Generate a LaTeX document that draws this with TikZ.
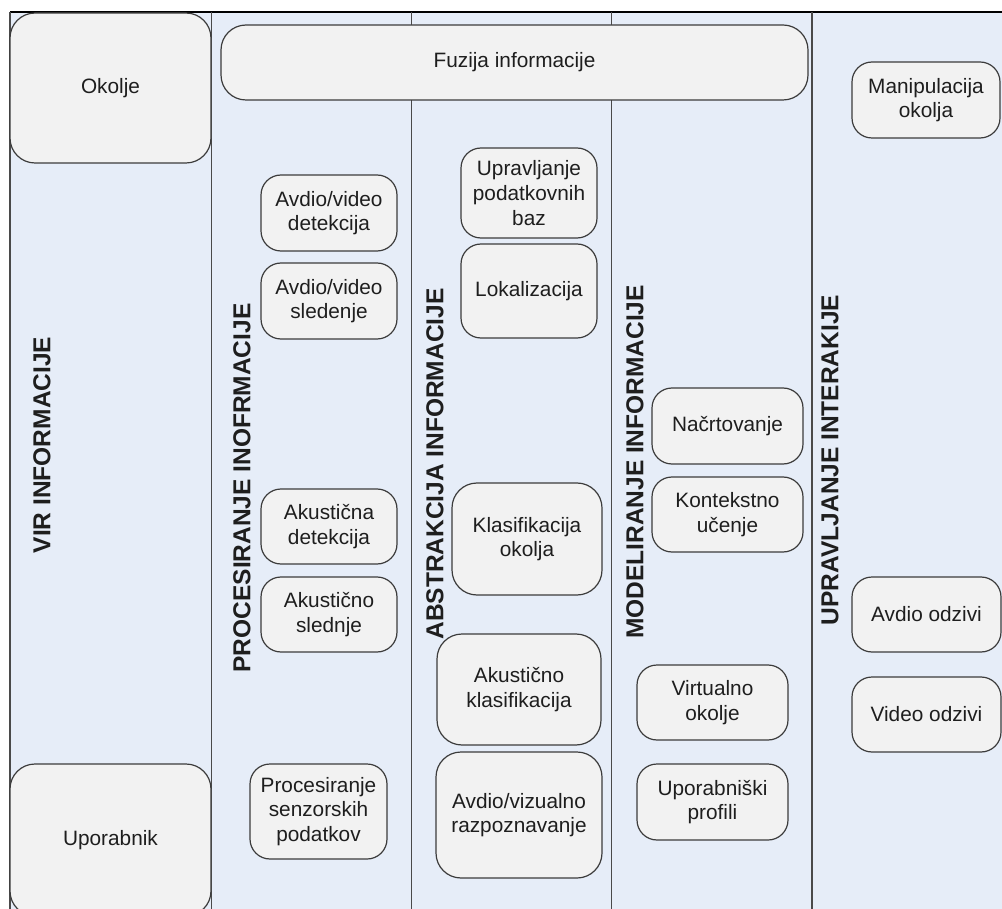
\documentclass[tikz,border=0pt]{standalone}
\usepackage{fontspec}
\setmainfont{Liberation Sans}
\definecolor{lane}{HTML}{E6EDF8}
\definecolor{boxfill}{HTML}{F2F2F2}
\definecolor{boxline}{HTML}{3C3C3C}
\definecolor{laneline}{HTML}{4A4A4A}
\definecolor{ink}{HTML}{1E1E1E}
\tikzset{
  stage/.style={draw=boxline, fill=boxfill, line width=1.2pt, rounded corners=20pt,
    align=center, inner sep=0pt, text=ink,
    font=\fontsize{20.8}{24.6}\selectfont},
  bigstage/.style={stage, rounded corners=25pt},
  lanetitle/.style={rotate=90, text=ink, inner sep=0pt,
    font=\bfseries\fontsize{24.5}{29}\selectfont},
  divider/.style={draw=laneline, line width=1.5pt}
}
\begin{document}
\begin{tikzpicture}[x=1pt, y=-1pt]
\useasboundingbox (0,0) rectangle (1002,909);
\clip (0,0) rectangle (1002,909);

% lanes
\fill[lane] (10,12) rectangle (1002,912);
\coordinate (tl) at (10,12);
\coordinate (tr) at (1002,12);
\coordinate (bl) at (10,912);
\draw[divider, draw=black] (tl) -- (tr);
\draw[divider] (tl) -- (bl);
\foreach \xx in {211.5, 411.5, 611.5, 812} {
  \draw[divider] (\xx,12) -- (\xx,912);
}

% lane titles
\node[lanetitle] (t1) at (42,445) {VIR INFORMACIJE};
\node[lanetitle] (t2) at (242,488) {PROCESIRANJE INOFRMACIJE};
\node[lanetitle] (t3) at (435,464) {ABSTRAKCIJA INFORMACIJE};
\node[lanetitle] (t4) at (635,462) {MODELIRANJE INFORMACIJE};
\node[lanetitle] (t5) at (830,460) {UPRAVLJANJE INTERAKIJE};

% sources
\node[bigstage, minimum width=201pt, minimum height=150pt] (okolje) at (110.5,88) {Okolje};
\node[bigstage, minimum width=201pt, minimum height=152pt] (uporabnik) at (110.5,840) {Uporabnik};

% fusion
\node[bigstage, minimum width=587pt, minimum height=75pt] (fuzija) at (514.5,62.5) {Fuzija informacije};

% processing
\node[stage, minimum width=136pt, minimum height=76pt] (avdet) at (329,213) {Avdio/video\\detekcija};
\node[stage, minimum width=136pt, minimum height=76pt] (avsled) at (329,301) {Avdio/video\\sledenje};
\node[stage, minimum width=136pt, minimum height=75pt] (akdet) at (329,526.5) {Akustična\\detekcija};
\node[stage, minimum width=136pt, minimum height=75pt] (aksled) at (329,614.5) {Akustično\\slednje};
\node[stage, minimum width=137pt, minimum height=95pt] (procsen) at (318.5,811.5) {Procesiranje\\senzorskih\\podatkov};

% abstraction
\node[stage, minimum width=136pt, minimum height=90pt] (uprav) at (529,193) {Upravljanje\\podatkovnih\\baz};
\node[stage, minimum width=136pt, minimum height=94pt] (lokal) at (529,291) {Lokalizacija};
\node[bigstage, minimum width=150pt, minimum height=112pt] (klasok) at (527,539) {Klasifikacija\\okolja};
\node[bigstage, minimum width=164pt, minimum height=111pt] (akklas) at (519,689.5) {Akustično\\klasifikacija};
\node[bigstage, minimum width=166pt, minimum height=126pt] (avviz) at (519,815) {Avdio/vizualno\\razpoznavanje};

% modelling
\node[stage, minimum width=151pt, minimum height=76pt] (nacrt) at (727.5,426) {Načrtovanje};
\node[stage, minimum width=151pt, minimum height=75pt] (kontekst) at (727.5,514.5) {Kontekstno\\učenje};
\node[stage, minimum width=151pt, minimum height=75pt] (virt) at (712.5,702.5) {Virtualno\\okolje};
\node[stage, minimum width=151pt, minimum height=76pt] (uprof) at (712.5,802) {Uporabniški\\profili};

% interaction
\node[stage, minimum width=148pt, minimum height=76pt] (manip) at (926,100) {Manipulacija\\okolja};
\node[stage, minimum width=149pt, minimum height=75pt] (avodz) at (926.5,614.5) {Avdio odzivi};
\node[stage, minimum width=149pt, minimum height=75pt] (vidodz) at (926.5,714.5) {Video odzivi};
\end{tikzpicture}
\end{document}
